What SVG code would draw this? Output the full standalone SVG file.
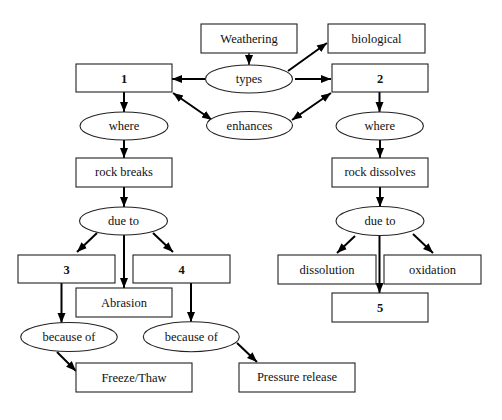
<svg xmlns="http://www.w3.org/2000/svg" width="502" height="420" viewBox="0 0 502 420">
<style>
.box{fill:#fff;stroke:#222;stroke-width:1.1}
.ell{fill:#fff;stroke:#222;stroke-width:1.1}
.t{font-size:12.5px;fill:#111;text-anchor:middle}
.b{font-weight:bold}
.c{stroke:#000;stroke-width:2;fill:none;marker-end:url(#ah)}
.d{marker-start:url(#ah)}
</style>
<defs>
<marker id="ah" markerUnits="userSpaceOnUse" markerWidth="10" markerHeight="10" viewBox="0 0 10 10" refX="10" refY="5" orient="auto-start-reverse">
<path d="M0,1 L10,5 L0,9 Z" fill="#000"/>
</marker>
</defs>
<rect width="502" height="420" fill="#fff"/>
<g id="connectors">
<path class="c" d="M249,53 V65" style="stroke-width:1.4"/>
<path class="c" d="M205,79 H172"/>
<path class="c" d="M295,79 H331"/>
<path class="c" d="M288,71 L327,43"/>
<path class="c d" d="M173,93 L212,120"/>
<path class="c d" d="M331,93 L292,120"/>
<path class="c" d="M124,92 V112"/>
<path class="c" d="M379.5,92 V112"/>
<path class="c" d="M124,140 V158"/>
<path class="c" d="M380,140 V158"/>
<path class="c" d="M124,187 V207"/>
<path class="c" d="M380,187 V207"/>
<path class="c" d="M97,233 L77,252"/>
<path class="c" d="M124,235 V288"/>
<path class="c" d="M153,233 L173,252"/>
<path class="c" d="M61.5,283 V323"/>
<path class="c" d="M191,283 V322"/>
<path class="c" d="M57,352 L76,371"/>
<path class="c" d="M237,343 L257,362"/>
<path class="c" d="M355,236 L337,253"/>
<path class="c" d="M379.5,236 V293"/>
<path class="c" d="M413,234 L433,253"/>
</g>
<g font-family="'Liberation Serif', 'Times New Roman', 'DejaVu Serif', serif">
<g id="weathering"><rect class="box" x="201" y="24" width="96" height="29"/><text class="t" x="249" y="42.5">Weathering</text></g>
<g id="biological"><rect class="box" x="328" y="24" width="97" height="29"/><text class="t" x="376.5" y="42.5">biological</text></g>
<g id="types"><ellipse class="ell" cx="249" cy="79" rx="43.5" ry="14"/><text class="t" x="249" y="83">types</text></g>
<g id="n1"><rect class="box" x="76" y="64" width="96" height="28"/><text class="t b" x="124" y="82.5">1</text></g>
<g id="n2"><rect class="box" x="332" y="64" width="96" height="28"/><text class="t b" x="380" y="82.5">2</text></g>
<g id="enhances"><ellipse class="ell" cx="249.5" cy="125.5" rx="43" ry="14"/><text class="t" x="249.5" y="129.5">enhances</text></g>
<g id="where1"><ellipse class="ell" cx="124" cy="126" rx="44" ry="14"/><text class="t" x="124" y="130">where</text></g>
<g id="where2"><ellipse class="ell" cx="379.7" cy="126" rx="43.7" ry="14"/><text class="t" x="379.7" y="130">where</text></g>
<g id="rockbreaks"><rect class="box" x="76" y="158" width="96" height="29"/><text class="t" x="124" y="176">rock breaks</text></g>
<g id="rockdissolves"><rect class="box" x="332" y="158" width="96" height="29"/><text class="t" x="380" y="176">rock dissolves</text></g>
<g id="dueto1"><ellipse class="ell" cx="123.5" cy="221" rx="44" ry="14"/><text class="t" x="123.5" y="225">due to</text></g>
<g id="dueto2"><ellipse class="ell" cx="380" cy="221" rx="44" ry="14.5"/><text class="t" x="380" y="225">due to</text></g>
<g id="n3"><rect class="box" x="18" y="255" width="97" height="28"/><text class="t b" x="66.5" y="273.5">3</text></g>
<g id="n4"><rect class="box" x="133" y="255" width="97" height="28"/><text class="t b" x="181.5" y="273.5">4</text></g>
<g id="abrasion"><rect class="box" x="76" y="288" width="96" height="29"/><text class="t" x="124" y="306.5">Abrasion</text></g>
<g id="dissolution"><rect class="box" x="278" y="255" width="98" height="29"/><text class="t" x="327" y="273.5">dissolution</text></g>
<g id="oxidation"><rect class="box" x="384" y="255" width="97" height="29"/><text class="t" x="432.5" y="273.5">oxidation</text></g>
<g id="n5"><rect class="box" x="332" y="293" width="96" height="29"/><text class="t b" x="380" y="311.5">5</text></g>
<g id="becauseof1"><ellipse class="ell" cx="69" cy="337" rx="48.3" ry="14.5"/><text class="t" x="69" y="341">because of</text></g>
<g id="becauseof2"><ellipse class="ell" cx="191.3" cy="336.7" rx="48" ry="15"/><text class="t" x="191.3" y="340.5">because of</text></g>
<g id="freezethaw"><rect class="box" x="76" y="363" width="116" height="29"/><text class="t" x="134" y="381.5">Freeze/Thaw</text></g>
<g id="pressure"><rect class="box" x="239" y="363" width="116" height="29"/><text class="t" x="297" y="381">Pressure release</text></g>
</g>
</svg>
